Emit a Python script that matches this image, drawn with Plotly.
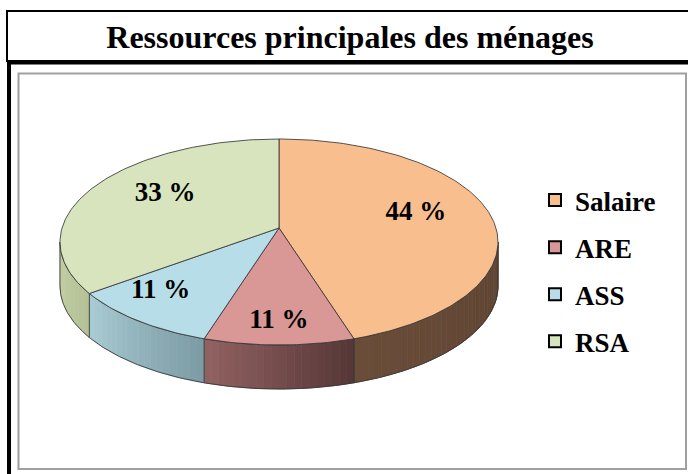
import numpy as np
import plotly.graph_objects as go

# ---------------- data ----------------
categories = ["Salaire", "ARE", "ASS", "RSA"]
values = [4, 1, 1, 3]          # households -> 44 %, 11 %, 11 %, 33 %
title_text = "Ressources principales des ménages"

# ---------------- style ----------------
top_colors = ["#F9BE8E", "#D99795", "#B7DEE8", "#D7E4BD"]
side_left = ["#6A4D39", "#936262", "#AACCD5", "#C3CFA4"]
side_right = ["#5E4433", "#553636", "#7C9BA4", "#B5C197"]
label_k = [0.635, 0.93, 0.84, 0.60]
FONT = "Liberation Serif"

CX, CY, RX, RY, DEPTH, APEX_Y, LABEL_CY = 279, 242, 219, 103, 44, 228, 225


def ell(theta, dy=0.0):
    t = np.radians(theta)
    return CX + RX * np.sin(t), CY - RY * np.cos(t) + dy


def hex2rgb(h):
    h = h.lstrip("#")
    return np.array([int(h[i:i + 2], 16) for i in (0, 2, 4)], dtype=float)


def mix(c1, c2, s):
    c = hex2rgb(c1) * (1 - s) + hex2rgb(c2) * s
    return "rgb(%d,%d,%d)" % tuple(np.round(c).astype(int))


total = sum(values)
pcts = [round(100 * v / total) for v in values]
angles = np.cumsum([0] + [360 * v / total for v in values])

fig = go.Figure()
EDGE = dict(color="rgba(55,55,55,0.85)", width=1)

# side faces (front half only)
for i, cat in enumerate(categories):
    a0, a1 = angles[i], angles[i + 1]
    lo, hi = max(a0, 90), min(a1, 270)
    if lo >= hi:
        continue
    n = max(4, int((hi - lo) / 2))
    edges = np.linspace(lo, hi, n + 1)
    for j in range(n):
        s0, s1 = edges[j], edges[j + 1]
        th = np.linspace(s0, s1, 4)
        xt, yt = ell(th)
        xb, yb = ell(th[::-1], DEPTH)
        s = (hi - 0.5 * (s0 + s1)) / (hi - lo)
        col = mix(side_left[i], side_right[i], s)
        fig.add_trace(go.Scatter(
            x=np.r_[xt, xb, xt[0]], y=np.r_[yt, yb, yt[0]], mode="lines",
            fill="toself", fillcolor=col, line=dict(color=col, width=0.8),
            hoverinfo="skip", showlegend=False))
    th = np.linspace(lo, hi, 80)
    xt, yt = ell(th)
    xb, yb = ell(th[::-1], DEPTH)
    fig.add_trace(go.Scatter(
        x=np.r_[xt, xb, xt[0]], y=np.r_[yt, yb, yt[0]], mode="lines",
        line=EDGE, hoverinfo="skip", showlegend=False))

# top faces
for i, cat in enumerate(categories):
    a0, a1 = angles[i], angles[i + 1]
    th = np.linspace(a0, a1, max(10, int(a1 - a0)))
    xs, ys = ell(th)
    fig.add_trace(go.Scatter(
        x=np.r_[CX, xs, CX], y=np.r_[APEX_Y, ys, APEX_Y], mode="lines",
        fill="toself", fillcolor=top_colors[i], line=EDGE,
        name=cat, hoverinfo="skip", showlegend=False))

# data labels
lx, ly = [], []
for i in range(len(categories)):
    m = np.radians(0.5 * (angles[i] + angles[i + 1]))
    lx.append(CX + label_k[i] * RX * np.sin(m))
    ly.append(LABEL_CY - label_k[i] * RY * np.cos(m))
fig.add_trace(go.Scatter(
    x=lx, y=ly, mode="text", text=[f"{p} %" for p in pcts],
    textposition="middle center",
    textfont=dict(family=FONT, size=27, color="black", weight="bold"),
    hoverinfo="skip", showlegend=False))

# legend entries
for i, cat in enumerate(categories):
    fig.add_trace(go.Scatter(
        x=[None], y=[None], mode="markers", name=cat, legendgroup=cat,
        marker=dict(symbol="square", size=12, color=top_colors[i],
                    line=dict(color="black", width=2))))

shapes = [
    dict(type="rect", x0=7, y0=11, x1=720, y1=61, line=dict(color="black", width=2)),
    dict(type="line", x0=7, y0=62.5, x1=720, y1=62.5, line=dict(color="black", width=4)),
    dict(type="line", x0=9, y0=60, x1=9, y1=480, line=dict(color="black", width=4)),
    dict(type="rect", x0=18.5, y0=73.5, x1=686, y1=469, line=dict(color="#A0A0A0", width=2)),
]
for s in shapes:
    s.update(xref="x", yref="y", layer="below")

fig.update_layout(
    width=688, height=474,
    margin=dict(l=0, r=0, t=0, b=0),
    paper_bgcolor="white", plot_bgcolor="white",
    xaxis=dict(range=[0, 688], visible=False, fixedrange=True),
    yaxis=dict(range=[474, 0], visible=False, fixedrange=True),
    shapes=shapes,
    title=dict(text=title_text, x=350 / 688, xanchor="center",
               y=1 - 37 / 474, yanchor="middle", yref="container",
               font=dict(family=FONT, size=32, color="black", weight="bold")),
    legend=dict(x=535 / 688, xanchor="left", y=1 - 176 / 474, yanchor="top",
                font=dict(family=FONT, size=27, color="black", weight="bold"),
                tracegroupgap=9, bgcolor="rgba(0,0,0,0)", itemclick=False,
                itemdoubleclick=False),
    showlegend=True,
)

fig.write_html(
    "out.html",
    config={"displayModeBar": False},
    post_script="document.body.style.margin='0';document.body.style.overflow='hidden';",
)
